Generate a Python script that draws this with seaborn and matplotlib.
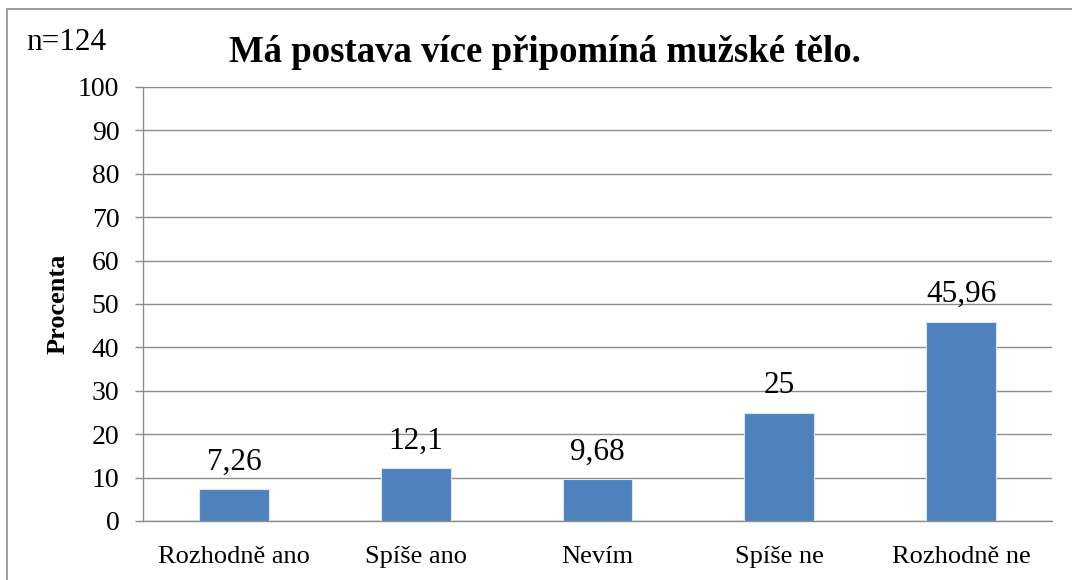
import matplotlib.pyplot as plt
import matplotlib.patches as mpatches
import seaborn as sns
import pandas as pd

categories = ['Rozhodně ano', 'Spíše ano', 'Nevím', 'Spíše ne', 'Rozhodně ne']
values = [7.26, 12.1, 9.68, 25, 45.96]
value_labels = ['7,26', '12,1', '9,68', '25', '45,96']
y_ticks = [0, 10, 20, 30, 40, 50, 60, 70, 80, 90, 100]

df = pd.DataFrame({'odpoved': categories, 'procenta': values})

sns.set_style('white')
plt.rcParams['font.family'] = ['Liberation Serif', 'DejaVu Serif']
plt.rcParams['text.color'] = 'black'
plt.rcParams['axes.labelcolor'] = 'black'

fig = plt.figure(figsize=(10.72, 5.8), dpi=100)
ax = fig.add_axes([143 / 1072, 1 - 521 / 580, (1052 - 143) / 1072, (521 - 87) / 580])

sns.barplot(data=df, x='odpoved', y='procenta', color='#4F81BD', width=0.385,
            saturation=1, edgecolor='#dce6f2', linewidth=0.8, ax=ax, zorder=3)

# value labels above bars
for i, (v, lab) in enumerate(zip(values, value_labels)):
    ax.text(i, v + 4.5, lab, ha='center', va='baseline', fontsize=22.5)

ax.set_ylim(0, 100)
ax.set_yticks(y_ticks)
ax.set_xlim(-0.5, len(categories) - 0.5)
ax.yaxis.grid(True, color='#8c8c8c', linewidth=1, zorder=0)
ax.set_axisbelow(True)
ax.tick_params(axis='y', labelsize=20, length=6, width=1, color='#8c8c8c',
               labelcolor='black', direction='out', left=True, pad=11)
ax.tick_params(axis='x', labelsize=19, length=0, pad=18, labelcolor='black')

for side in ['top', 'right']:
    ax.spines[side].set_visible(False)
for side in ['left', 'bottom']:
    ax.spines[side].set_color('#8c8c8c')
    ax.spines[side].set_linewidth(1)

ax.set_xlabel('')
ax.set_ylabel('Procenta', fontsize=19, fontweight='bold')
ax.yaxis.set_label_coords((70 - 143) / (1052 - 143), 0.5)

fig.text(545 / 1072, 1 - 62 / 580, 'Má postava více připomíná mužské tělo.',
         ha='center', va='baseline', fontsize=26.5, fontweight='bold')
fig.text(26 / 1072, 1 - 50 / 580, 'n=124', ha='left', va='baseline', fontsize=22.5)

# outer chart border
border = mpatches.Rectangle((7 / 1072, -0.05), 1.1, 1 - 9 / 580 + 0.05,
                            transform=fig.transFigure, fill=False,
                            edgecolor='#8c8c8c', linewidth=1.2)
fig.patches.append(border)

fig.savefig('out.png', dpi=100)
